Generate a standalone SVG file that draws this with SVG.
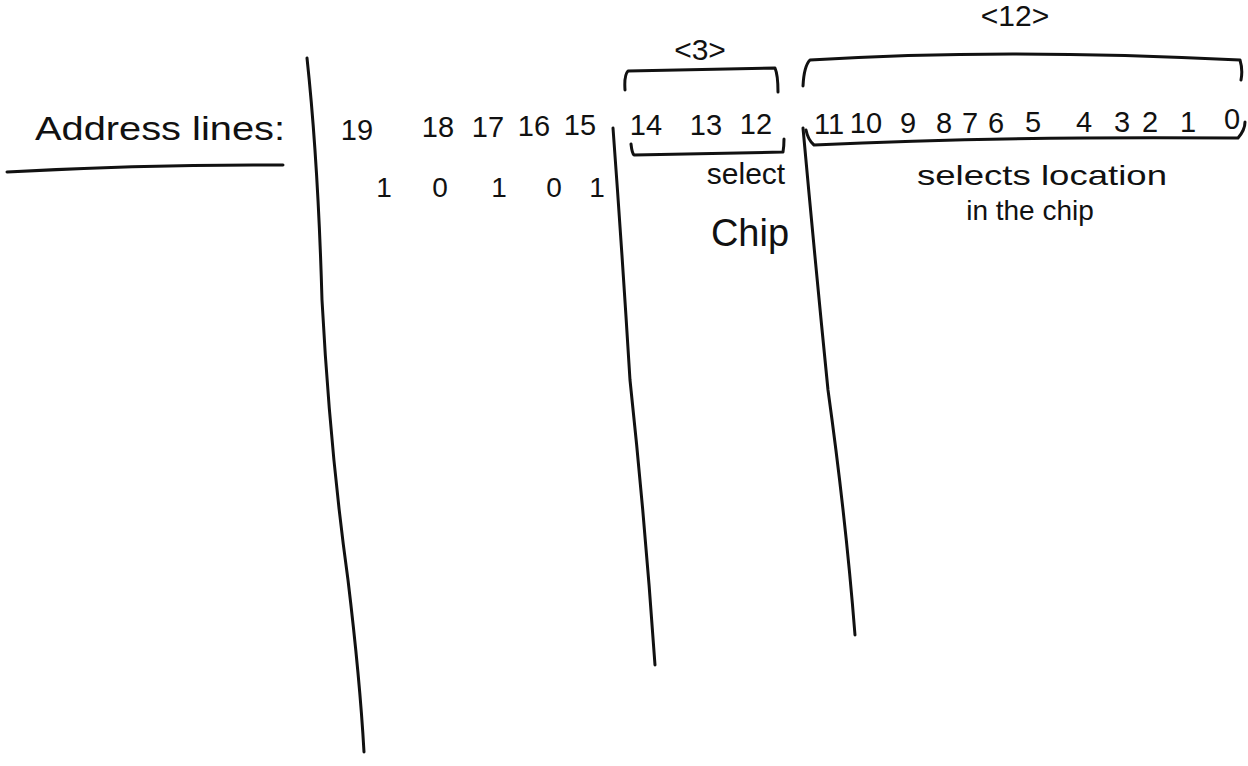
<svg xmlns="http://www.w3.org/2000/svg" width="1248" height="766" viewBox="0 0 1248 766">
<style>
.t{font-family:"Liberation Sans","DejaVu Sans",sans-serif;fill:#111}
.s{fill:none;stroke:#111;stroke-width:3;stroke-linecap:round;stroke-linejoin:round}
</style>
<rect width="1248" height="766" fill="#fff"/>
<g id="title">
<text class="t" x="35" y="140" font-size="34" textLength="250" lengthAdjust="spacingAndGlyphs">Address lines:</text>
<path class="s" d="M7 172 Q150 164 283 165"/>
</g>
<g id="connectors">
<path class="s" d="M307 58 Q318 160 322 300 Q330 450 348 580 Q360 680 364 752"/>
<path class="s" d="M613 128 Q622 250 630 380 Q645 520 655 665"/>
<path class="s" d="M803 128 Q815 260 828 390 Q846 520 855 635"/>
</g>
<g id="bracket3">
<path class="s" d="M625 90 Q624 75 628 71 L775 68 Q778 75 778 92"/>
<path class="s" d="M631 144 Q632 153 634 155 L783 152 Q784 146 784 139"/>
<text class="t" x="700" y="60" font-size="30" text-anchor="middle">&lt;3&gt;</text>
</g>
<g id="bracket12">
<path class="s" d="M803 86 Q804 66 810 60 Q1000 48 1240 60 Q1243 70 1241 80"/>
<path class="s" d="M806 130 Q808 140 814 145 Q1000 136 1238 138 Q1245 130 1245 122"/>
<text class="t" x="1015" y="26" font-size="30" text-anchor="middle">&lt;12&gt;</text>
</g>
<g id="bits" class="t" font-size="29" text-anchor="middle">
<text x="357" y="140">19</text>
<text x="438" y="137">18</text>
<text x="488" y="137">17</text>
<text x="534" y="136">16</text>
<text x="580" y="135">15</text>
<text x="646" y="135">14</text>
<text x="706" y="135">13</text>
<text x="756" y="134">12</text>
<text x="829" y="134">11</text>
<text x="866" y="133">10</text>
<text x="908" y="133">9</text>
<text x="944" y="133">8</text>
<text x="970" y="133">7</text>
<text x="996" y="133">6</text>
<text x="1033" y="132">5</text>
<text x="1084" y="132">4</text>
<text x="1122" y="132">3</text>
<text x="1150" y="132">2</text>
<text x="1188" y="132">1</text>
<text x="1232" y="129">0</text>
</g>
<g id="values" class="t" font-size="28" text-anchor="middle">
<text x="384" y="197">1</text>
<text x="440" y="197">0</text>
<text x="499" y="197">1</text>
<text x="554" y="197">0</text>
<text x="597" y="197">1</text>
</g>
<g id="chipsel" class="t" text-anchor="middle">
<text x="746" y="184" font-size="30">select</text>
<text x="750" y="246" font-size="38">Chip</text>
</g>
<g id="locsel" class="t" font-size="28" text-anchor="middle">
<text x="1042" y="185" textLength="250" lengthAdjust="spacingAndGlyphs">selects location</text>
<text x="1030" y="220">in the chip</text>
</g>
</svg>
